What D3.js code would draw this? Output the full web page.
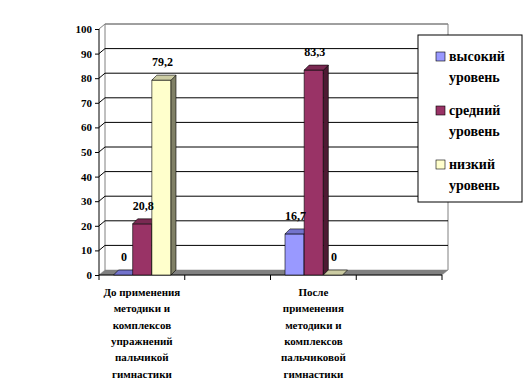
<!DOCTYPE html>
<html>
<head>
<meta charset="utf-8">
<script src="https://cdn.jsdelivr.net/npm/d3@7"></script>
<style>
    body { margin: 0; background: #fff; }
</style>
</head>
<body>
<svg id="chart" width="527" height="388"></svg>
<script>
// categories (2nd and 4th are empty in the original sheet)
var categoryLines = [
    ["До применения", "методики и", "комплексов", "упражнений", "пальчикой", "гимнастики"],
    [],
    ["После", "применения", "методики и", "комплексов", "пальчиковой", "гимнастики"],
    []
];
var seriesNames = ["высокий уровень", "средний уровень", "низкий уровень"];
var highLevel   = [0, null, 16.7, null];
var middleLevel = [20.8, null, 83.3, null];
var lowLevel    = [79.2, null, 0, null];
var yTicks = [0, 10, 20, 30, 40, 50, 60, 70, 80, 90, 100];

var seriesValues = [highLevel, middleLevel, lowLevel];
var colors = [
    {front: "#9999ff", top: "#7373cc", side: "#4d4d80"},
    {front: "#993366", top: "#7a2952", side: "#4d1a33"},
    {front: "#ffffcc", top: "#cccca3", side: "#808066"}
];
var FONT = "Liberation Serif, DejaVu Serif, serif";

var svg = d3.select("#chart");

// wall depth offset and bar depth offset
var wd = {x: 6, y: -5};
var bd = {x: 5, y: -5};

var x0 = d3.scaleBand()
    .domain(d3.range(categoryLines.length))
    .range([99, 442]);

var x1 = d3.scaleBand()
    .domain(d3.range(seriesNames.length))
    .range([14.5, 72]);

var y = d3.scaleLinear()
    .domain([0, 100])
    .range([275, 29]);

var left = x0.range()[0], right = x0.range()[1];

// back wall border
svg.append("path")
    .attr("d", "M" + (left + wd.x) + "," + (y(0) + wd.y) +
        "V" + (y(100) + wd.y) + "H" + (right + wd.x) + "V" + (y(0) + wd.y))
    .attr("fill", "none")
    .attr("stroke", "#808080");

// gridlines, including the short segment on the side wall
svg.append("g")
    .selectAll("path")
    .data(yTicks.filter(function(t) { return t > 0; }))
    .enter().append("path")
    .attr("d", function(t) {
        return "M" + left + "," + y(t) + "L" + (left + wd.x) + "," + (y(t) + wd.y) +
            "H" + (right + wd.x);
    })
    .attr("fill", "none")
    .attr("stroke", function(t) { return t === 100 ? "#808080" : "#000"; })
    .attr("stroke-width", 1);

// floor
svg.append("path")
    .attr("d", "M" + left + "," + y(0) + "H" + right + "L" + (right + wd.x) + "," + (y(0) + wd.y) +
        "H" + (left + wd.x) + "Z")
    .attr("fill", "#808080")
    .attr("stroke", "#808080")
    .attr("stroke-width", 0.5);

// y axis
var yAxis = d3.axisLeft(y).tickValues(yTicks).tickSize(4).tickPadding(3);
var gy = svg.append("g")
    .attr("transform", "translate(" + left + ",0)")
    .call(yAxis);
gy.select(".domain").attr("stroke", "#000").attr("d", "M0," + y(100) + "V" + y(0));
gy.selectAll("text")
    .attr("fill", "#000")
    .attr("font-family", FONT)
    .attr("font-weight", "bold")
    .attr("font-size", 11);

// x axis
var gx = svg.append("g")
    .attr("transform", "translate(0," + y(0) + ")");
gx.append("line")
    .attr("x1", left).attr("x2", right)
    .attr("stroke", "#000");
gx.selectAll(".tick")
    .data(d3.range(categoryLines.length + 1))
    .enter().append("line")
    .attr("x1", function(i) { return left + i * x0.bandwidth(); })
    .attr("x2", function(i) { return left + i * x0.bandwidth(); })
    .attr("y1", 0).attr("y2", 5)
    .attr("stroke", "#000");

// category labels
var catText = gx.selectAll(".cat")
    .data(categoryLines)
    .enter().append("text")
    .attr("class", "cat")
    .attr("text-anchor", "middle")
    .attr("font-family", FONT)
    .attr("font-weight", "bold")
    .attr("font-size", 11)
    .attr("x", function(d, i) { return x0(i) + x0.bandwidth() / 2; });
catText.selectAll("tspan")
    .data(function(d, i) { return d.map(function(s) { return {s: s, i: i}; }); })
    .enter().append("tspan")
    .attr("x", function(d) { return x0(d.i) + x0.bandwidth() / 2; })
    .attr("y", function(d, j) { return 21 + j * 16.3; })
    .text(function(d) { return d.s; });

// bars
var bars = [];
seriesValues.forEach(function(vals, s) {
    vals.forEach(function(v, c) {
        if (v !== null) bars.push({s: s, c: c, v: v});
    });
});

var barG = svg.append("g");
bars.forEach(function(b) {
    var bx = x0(b.c) + x1(b.s), bw = x1.bandwidth();
    var yt = y(b.v), yb = y(0);
    var col = colors[b.s];
    var g = barG.append("g")
        .attr("stroke", "#000")
        .attr("stroke-width", 0.6)
        .attr("stroke-linejoin", "round");
    if (b.v > 0) {
        g.append("rect")
            .attr("x", bx).attr("y", yt)
            .attr("width", bw).attr("height", yb - yt)
            .attr("fill", col.front);
        g.append("path")
            .attr("d", "M" + (bx + bw) + "," + yt + "L" + (bx + bw + bd.x) + "," + (yt + bd.y) +
                "V" + (yb + bd.y) + "L" + (bx + bw) + "," + yb + "Z")
            .attr("fill", col.side);
    }
    g.append("path")
        .attr("d", "M" + bx + "," + yt + "L" + (bx + bd.x) + "," + (yt + bd.y) +
            "H" + (bx + bw + bd.x) + "L" + (bx + bw) + "," + yt + "Z")
        .attr("fill", col.top);
});

// value labels
svg.append("g")
    .selectAll("text")
    .data(bars)
    .enter().append("text")
    .attr("text-anchor", "middle")
    .attr("font-family", FONT)
    .attr("font-weight", "bold")
    .attr("font-size", 12)
    .attr("x", function(b) { return x0(b.c) + x1(b.s) + x1.bandwidth() / 2 + 1; })
    .attr("y", function(b) { return y(b.v) - 14; })
    .text(function(b) { return String(b.v).replace(".", ","); });

// legend
var legend = svg.append("g").attr("transform", "translate(418,35)");
legend.append("rect")
    .attr("width", 104).attr("height", 167)
    .attr("fill", "#fff")
    .attr("stroke", "#000");
var item = legend.selectAll(".item")
    .data(seriesNames)
    .enter().append("g")
    .attr("transform", function(d, i) { return "translate(0," + (17 + i * 54) + ")"; });
item.append("rect")
    .attr("x", 18).attr("y", 0)
    .attr("width", 9).attr("height", 9)
    .attr("fill", function(d, i) { return colors[i].front; })
    .attr("stroke", "#000")
    .attr("stroke-width", 0.6);
item.append("text")
    .attr("font-family", FONT)
    .attr("font-weight", "bold")
    .attr("font-size", 14)
    .selectAll("tspan")
    .data(function(d) { return d.split(" "); })
    .enter().append("tspan")
    .attr("x", 31)
    .attr("y", function(d, j) { return 9 + j * 21; })
    .text(function(d) { return d; });
</script>
</body>
</html>
